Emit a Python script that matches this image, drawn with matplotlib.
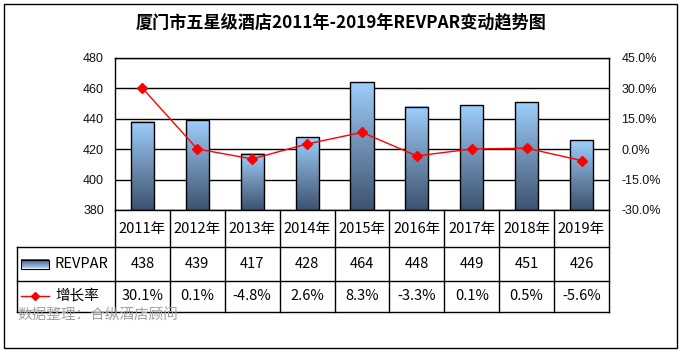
import matplotlib
matplotlib.use("Agg")
import matplotlib.pyplot as plt
import numpy as np
from matplotlib.patches import Rectangle
from matplotlib.colors import LinearSegmentedColormap
from matplotlib.lines import Line2D

plt.rcParams['font.family'] = ['Noto Sans CJK SC', 'DejaVu Sans']

years = ["2011年", "2012年", "2013年", "2014年", "2015年", "2016年", "2017年", "2018年", "2019年"]
revpar = [438, 439, 417, 428, 464, 448, 449, 451, 426]
growth = [30.1, 0.1, -4.8, 2.6, 8.3, -3.3, 0.1, 0.5, -5.6]
left_ticks = [380, 400, 420, 440, 460, 480]
right_ticks = [-30, -15, 0, 15, 30, 45]
title = "厦门市五星级酒店2011年-2019年REVPAR变动趋势图"
series_names = ["REVPAR", "增长率"]
source = "数据整理：合纵酒店顾问"

W, H = 683, 353
fig = plt.figure(figsize=(W/100, H/100), dpi=100)

# pixel geometry
x0, x1 = 115, 609
y_top, y_bot = 58, 210
ax = fig.add_axes([x0/W, 1 - y_bot/H, (x1-x0)/W, (y_bot-y_top)/H])
n = len(years)
ax.set_xlim(0, n)
ax.set_ylim(380, 480)
ax.set_yticks(left_ticks)
ax.yaxis.grid(True, color='black', linewidth=1)
ax.set_axisbelow(True)
ax.set_xticks([])
for s in ['top', 'right', 'left', 'bottom']:
    ax.spines[s].set_linewidth(1)
ax.tick_params(axis='y', length=0, labelsize=9, pad=8, labelcolor='#111111')
for lab in ax.get_yticklabels():
    lab.set_fontfamily('Liberation Sans')

cmap = LinearSegmentedColormap.from_list('g', ['#3d5270', '#6f8fb3', '#9dcffd'])
grad = np.linspace(0, 1, 256).reshape(-1, 1)
bw = 0.42
for i, v in enumerate(revpar):
    xl = i + 0.5 - bw/2
    ax.imshow(grad, extent=[xl, xl+bw, 380, v], origin='lower', cmap=cmap,
              aspect='auto', zorder=2)
    ax.add_patch(Rectangle((xl, 380), bw, v-380, fill=False, edgecolor='black',
                           linewidth=1, zorder=3))
ax.set_xlim(0, n)
ax.set_ylim(380, 480)

ax2 = ax.twinx()
ax2.set_ylim(-30, 45)
ax2.set_yticks(right_ticks)
ax2.set_yticklabels([f"{t:.1f}%" for t in right_ticks])
ax2.tick_params(axis='y', length=0, labelsize=9, pad=9, labelcolor='#111111')
for lab in ax2.get_yticklabels():
    lab.set_fontfamily('Liberation Sans')
ax2.plot(np.arange(n) + 0.5, growth, color='red', linewidth=1, marker='D',
         markersize=5, zorder=5)
for s in ax2.spines.values():
    s.set_visible(False)

# overlay for table
ov = fig.add_axes([0, 0, 1, 1])
ov.set_xlim(0, W)
ov.set_ylim(H, 0)
ov.axis('off')
ov.patch.set_alpha(0)

# outer border
ov.add_patch(Rectangle((4, 4), 673, 344, fill=False, edgecolor='black', linewidth=1))
ov.text(341, 22, title, ha='center', va='center', fontsize=12.3, fontweight='bold',
        color='black')

cw = (x1 - x0) / n
r0, r1, r2, r3 = 210, 247, 281, 312
tl = 17
lw = 1
fs = 10.5
for y in (r1, r2, r3):
    ov.plot([tl, x1], [y, y], color='black', linewidth=lw)
for i in range(n + 1):
    ov.plot([x0 + i*cw]*2, [r0, r3], color='black', linewidth=lw)
ov.plot([tl, tl], [r1, r3], color='black', linewidth=lw)

for i in range(n):
    cx = x0 + (i + 0.5)*cw
    ov.text(cx, (r0+r1)/2, years[i], ha='center', va='center', fontsize=fs)
    ov.text(cx, (r1+r2)/2, str(revpar[i]), ha='center', va='center', fontsize=fs)
    ov.text(cx, (r2+r3)/2, f"{growth[i]:.1f}%", ha='center', va='center', fontsize=fs)

# legend keys
kx0, kx1 = 21, 49
ky = (r1+r2)/2
ov.imshow(grad, extent=[kx0, kx1, ky+4.5, ky-4.5], origin='upper', cmap=cmap,
          aspect='auto', zorder=2)
ov.add_patch(Rectangle((kx0, ky-4.5), kx1-kx0, 9, fill=False, edgecolor='black', linewidth=0.8, zorder=3))
ov.text(55, ky, series_names[0], ha='left', va='center', fontsize=fs)
ky2 = (r2+r3)/2 - 1
ov.add_line(Line2D([kx0, kx1], [ky2, ky2], color='red', linewidth=1))
ov.plot([(kx0+kx1)/2], [ky2], marker='D', color='red', markersize=4.5)
ov.text(55, ky2, series_names[1], ha='left', va='center', fontsize=fs)
ov.set_xlim(0, W)
ov.set_ylim(H, 0)

ov.text(17, 315, source, ha='left', va='center', fontsize=10.5, color='#a0a0a0')

fig.savefig("out.png", dpi=100)
